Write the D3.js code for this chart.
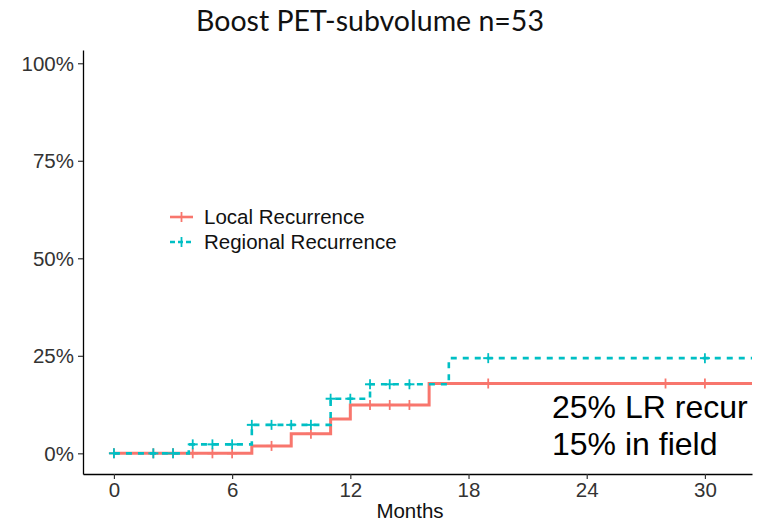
<!DOCTYPE html>
<html>
<head>
<meta charset="utf-8">
<script src="https://cdn.jsdelivr.net/npm/d3@7"></script>
<style>
  html, body { margin: 0; padding: 0; background: #fff; }
  svg { display: block; }
</style>
</head>
<body>
<svg id="chart" width="766" height="523"></svg>
<script>
// Cumulative incidence, Kaplan–Meier style (time in months, fraction)
const localEventTimes = [7, 9, 11, 12, 16];
const localLevels = [0.019, 0.050, 0.088, 0.124, 0.179];
const localCensorTimes = [0, 2, 3, 4, 5, 6, 8, 10, 13, 14, 15, 19, 28, 30];

const regionalEventTimes = [3.8, 7, 11, 13, 17];
const regionalLevels = [0.023, 0.073, 0.140, 0.177, 0.244];
const regionalCensorTimes = [0, 2, 3, 4, 5, 6, 7, 8, 9, 10, 11, 12, 13, 14, 15, 19, 30];

const xTicks = [0, 6, 12, 18, 24, 30];
const yTicks = [0, 0.25, 0.5, 0.75, 1];
const seriesNames = ["Local Recurrence", "Regional Recurrence"];
const titleText = "Boost PET-subvolume n=53";
const noteLines = ["25% LR recur", "15% in field"];

const RED = "#F8766D", CYAN = "#00BFC4";
const svg = d3.select("#chart");

const panel = { left: 83, right: 752, top: 50, bottom: 474 };
const x = d3.scaleLinear().domain([-1.57, 32.39]).range([panel.left, panel.right]);
const y = d3.scaleLinear().domain([-0.053, 1.034]).range([panel.bottom, panel.top]);

// Axes (classic theme: axis lines, no grid)
const axisFont = "Liberation Sans, Arial, sans-serif";
const textSize = "20.5px";
const xAxis = svg.append("g")
  .attr("transform", `translate(0,${panel.bottom})`)
  .call(d3.axisBottom(x).tickValues(xTicks).tickSize(5).tickPadding(3).tickSizeOuter(0));
const yAxis = svg.append("g")
  .attr("transform", `translate(${panel.left},0)`)
  .call(d3.axisLeft(y).tickValues(yTicks).tickFormat(d3.format(".0%")).tickSize(5).tickPadding(4).tickSizeOuter(0));
[xAxis, yAxis].forEach(g => {
  g.select(".domain").attr("stroke", "#000").attr("stroke-width", 1.3);
  g.selectAll(".tick line").attr("stroke", "#333").attr("stroke-width", 1.2);
  g.selectAll(".tick text").attr("fill", "#333").style("font-family", axisFont).style("font-size", textSize);
});
yAxis.selectAll(".tick text").attr("dy", "0.35em");

svg.append("text")
  .attr("x", 410).attr("y", 518)
  .attr("text-anchor", "middle")
  .style("font-family", axisFont).style("font-size", textSize).attr("fill", "#111")
  .text("Months");

// Step curves
function stepPoints(times, levels) {
  const pts = [[0, 0]];
  times.forEach((t, i) => pts.push([t, levels[i]]));
  pts.push([x.domain()[1], levels[levels.length - 1]]);
  return pts;
}
function levelAt(times, levels, t) {
  let v = 0;
  times.forEach((tt, i) => { if (tt <= t) v = levels[i]; });
  return v;
}
const stepLine = d3.line().x(d => x(d[0])).y(d => y(d[1])).curve(d3.curveStepAfter);

function drawSeries(times, levels, censors, color, dashed) {
  const g = svg.append("g");
  g.append("path")
    .datum(stepPoints(times, levels))
    .attr("d", stepLine)
    .attr("fill", "none")
    .attr("stroke", color)
    .attr("stroke-width", dashed ? 2.6 : 3)
    .attr("stroke-dasharray", dashed ? "6,6" : null);
  const marks = g.selectAll("g.cens").data(censors).enter().append("g")
    .attr("transform", t => `translate(${x(t)},${y(levelAt(times, levels, t))})`);
  marks.append("line").attr("x1", 0).attr("x2", 0).attr("y1", -5).attr("y2", 5)
    .attr("stroke", color).attr("stroke-width", 1.8);
  marks.append("line").attr("x1", -5).attr("x2", 5).attr("y1", 0).attr("y2", 0)
    .attr("stroke", color).attr("stroke-width", 2);
}
drawSeries(localEventTimes, localLevels, localCensorTimes, RED, false);
drawSeries(regionalEventTimes, regionalLevels, regionalCensorTimes, CYAN, true);

// Legend
const legend = svg.append("g");
[[RED, false], [CYAN, true]].forEach(([color, dashed], i) => {
  const ly = 217 + i * 25;
  const row = legend.append("g");
  row.append("line").attr("x1", 170).attr("x2", 193).attr("y1", ly).attr("y2", ly)
    .attr("stroke", color).attr("stroke-width", 2.6)
    .attr("stroke-dasharray", dashed ? "5,3" : null);
  row.append("line").attr("x1", 181.5).attr("x2", 181.5).attr("y1", ly - 5).attr("y2", ly + 5)
    .attr("stroke", color).attr("stroke-width", 1.8);
  row.append("text").attr("x", 204).attr("y", ly).attr("dy", "0.35em")
    .style("font-family", axisFont).style("font-size", textSize).attr("fill", "#111")
    .text(seriesNames[i]);
});

// Title
svg.append("text")
  .attr("x", 370).attr("y", 31)
  .attr("text-anchor", "middle")
  .style("font-family", "Lato, 'Open Sans', sans-serif").style("font-size", "28.5px").attr("fill", "#111")
  .text(titleText);

// Annotation
noteLines.forEach((line, i) => {
  svg.append("text")
    .attr("x", 552).attr("y", 418 + i * 37)
    .style("font-family", axisFont).style("font-size", "32px").attr("fill", "#000")
    .text(line);
});
</script>
</body>
</html>
